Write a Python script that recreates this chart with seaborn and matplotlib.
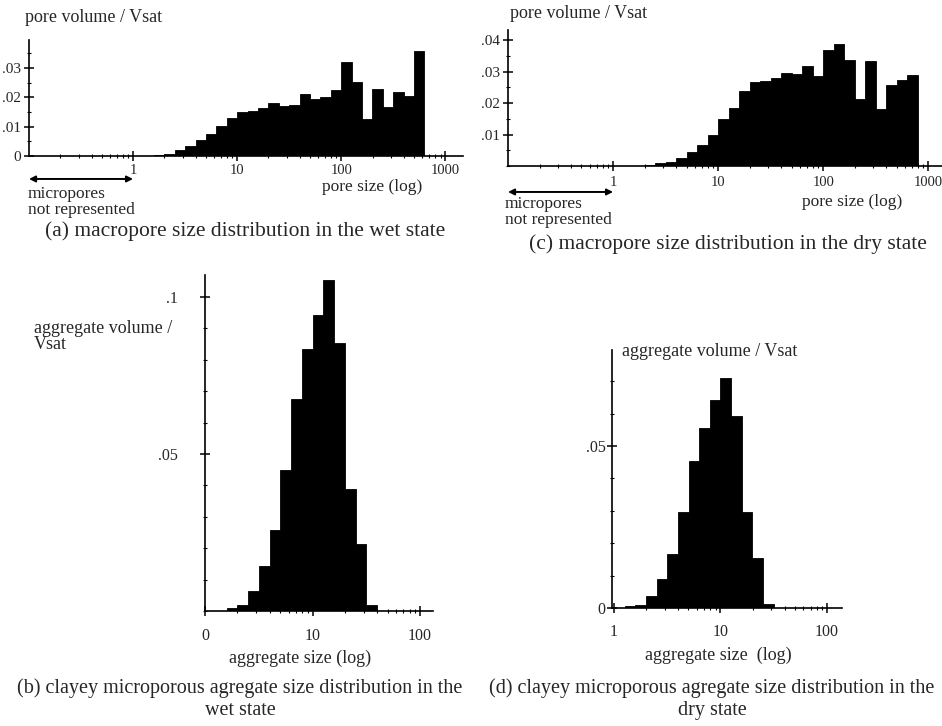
"""Macropore and clayey aggregate size distributions in the wet and dry state."""
import numpy as np
import matplotlib
matplotlib.use("Agg")
import matplotlib.pyplot as plt
from matplotlib.ticker import LogLocator, MultipleLocator, NullFormatter
import seaborn as sns

# volume / Vsat per size class, classes are 0.1 decade wide (log10 range of the classes)
wet_pore_log_range = (0.2, 2.8)
wet_pore_volume = [0.0003, 0.0008, 0.0020, 0.0033, 0.0053, 0.0074, 0.0101, 0.0131,
                   0.0151, 0.0155, 0.0163, 0.0180, 0.0170, 0.0174, 0.0210, 0.0193,
                   0.0200, 0.0225, 0.0321, 0.0253, 0.0125, 0.0228, 0.0166, 0.0220,
                   0.0205, 0.0357]

dry_pore_log_range = (0.3, 2.9)
dry_pore_volume = [0.0003, 0.0008, 0.0013, 0.0026, 0.0044, 0.0066, 0.0100, 0.0149,
                   0.0183, 0.0239, 0.0268, 0.0271, 0.0281, 0.0296, 0.0292, 0.0318,
                   0.0287, 0.0370, 0.0389, 0.0336, 0.0212, 0.0332, 0.0182, 0.0257,
                   0.0273, 0.0289]

wet_agg_log_range = (0.2, 1.6)
wet_agg_volume = [0.0008, 0.0019, 0.0065, 0.0143, 0.0258, 0.0449, 0.0674, 0.0834,
                  0.0942, 0.1055, 0.0852, 0.0389, 0.0212, 0.0019]

dry_agg_log_range = (0.1, 1.5)
dry_agg_volume = [0.0005, 0.0010, 0.0038, 0.0090, 0.0166, 0.0296, 0.0454, 0.0554,
                  0.0642, 0.0711, 0.0592, 0.0295, 0.0154, 0.0013]

W, H = 942, 726


def _xy(x, y):
    return x / W, 1 - y / H


def _axes(fig, left, top, right, bottom):
    return fig.add_axes([left / W, 1 - bottom / H, (right - left) / W, (bottom - top) / H])


def _hist(ax, log_range, volume):
    lo, hi = log_range
    sizes = 10 ** np.linspace(lo + 0.05, hi - 0.05, len(volume))
    sns.histplot(x=sizes, weights=volume, binwidth=0.1, binrange=log_range,
                 log_scale=True, color="black", edgecolor="black", linewidth=0.6,
                 alpha=1, ax=ax)
    ax.set_xlabel("")
    ax.set_ylabel("")


def _style(ax, xlim, ylim, xticks, xlabels, yticks, ylabels, yminor,
           xpad=2, ypad=2, xsize=10.5, ysize=11):
    ax.set_xlim(xlim)
    ax.set_ylim(ylim)
    ax.set_xticks(xticks, xlabels)
    ax.xaxis.set_minor_locator(LogLocator(base=10, subs=np.arange(2, 10), numticks=50))
    ax.xaxis.set_minor_formatter(NullFormatter())
    ax.set_yticks(yticks, ylabels)
    ax.yaxis.set_minor_locator(MultipleLocator(yminor))
    ax.yaxis.set_minor_formatter(NullFormatter())
    sns.despine(ax=ax)
    for side in ("left", "bottom"):
        ax.spines[side].set_linewidth(1.2)
    ax.tick_params(which="major", direction="inout", length=7, width=1.1, color="black")
    ax.tick_params(axis="x", which="major", pad=xpad, labelsize=xsize)
    ax.tick_params(axis="y", which="major", pad=ypad, labelsize=ysize)
    ax.tick_params(which="minor", direction="inout", length=3.5, width=0.8, color="black")
    ax.set_facecolor("white")


def _micropores(fig, ax, y_axes, text_left, text_y):
    ax.annotate("", xy=(0.1, y_axes), xytext=(1, y_axes),
                xycoords=ax.get_xaxis_transform(), textcoords=ax.get_xaxis_transform(),
                arrowprops=dict(arrowstyle="<|-|>", color="black", lw=1.4,
                                mutation_scale=9, shrinkA=0, shrinkB=0),
                annotation_clip=False)
    fig.text(*_xy(text_left, text_y), "micropores\nnot represented", ha="left",
             va="center", fontsize=12.5, linespacing=0.95)


sns.set_style("ticks")
plt.rcParams["font.family"] = ["Liberation Serif", "DejaVu Serif"]
plt.rcParams["axes.edgecolor"] = "black"

fig = plt.figure(figsize=(W / 100, H / 100), dpi=100)

# (a) macropores, wet state
ax_a = _axes(fig, 29, 40, 463, 156)
_hist(ax_a, wet_pore_log_range, wet_pore_volume)
_style(ax_a, (0.1, 1480), (0, 0.0396), [1, 10, 100, 1000], ["1", "10", "100", "1000"],
       [0, 0.01, 0.02, 0.03], ["0", ".01", ".02", ".03"], 0.005)
fig.text(*_xy(25, 18), "pore volume / Vsat", ha="left", va="center", fontsize=13)
fig.text(*_xy(372, 187), "pore size (log)", ha="center", va="center", fontsize=12.5)
_micropores(fig, ax_a, -0.198, 28, 202)
fig.text(*_xy(245, 231), "(a) macropore size distribution in the wet state",
         ha="center", va="center", fontsize=15.5)

# (c) macropores, dry state
ax_c = _axes(fig, 508, 30, 942, 166)
_hist(ax_c, dry_pore_log_range, dry_pore_volume)
_style(ax_c, (0.1, 1350), (0, 0.0432), [1, 10, 100, 1000], ["1", "10", "100", "1000"],
       [0.01, 0.02, 0.03, 0.04], [".01", ".02", ".03", ".04"], 0.005, xpad=4)
fig.text(*_xy(510, 13), "pore volume / Vsat", ha="left", va="center", fontsize=13)
fig.text(*_xy(852, 202), "pore size (log)", ha="center", va="center", fontsize=12.5)
_micropores(fig, ax_c, -0.191, 505, 212)
fig.text(*_xy(728, 244), "(c) macropore size distribution in the dry state",
         ha="center", va="center", fontsize=15.5)

# (b) aggregates, wet state
ax_b = _axes(fig, 205, 275, 433, 611)
_hist(ax_b, wet_agg_log_range, wet_agg_volume)
_style(ax_b, (1, 132), (0, 0.107), [1, 10, 100], ["0", "10", "100"],
       [0.05, 0.1], [".05", ".1"], 0.01, xpad=9, ypad=16, xsize=11.5, ysize=11.5)
fig.text(*_xy(172, 320), "aggregate volume /\nVsat", ha="right", va="top",
         multialignment="left", fontsize=13, linespacing=0.9)
fig.text(*_xy(300, 658), "aggregate size (log)", ha="center", va="center", fontsize=13)
fig.text(*_xy(240, 699), "(b) clayey microporous agregate size distribution in the\nwet state",
         ha="center", va="center", fontsize=14.5)

# (d) aggregates, dry state
ax_d = _axes(fig, 612, 350, 842, 608)
_hist(ax_d, dry_agg_log_range, dry_agg_volume)
_style(ax_d, (0.96, 138), (0, 0.0796), [1, 10, 100], ["1", "10", "100"],
       [0, 0.05], ["0", ".05"], 0.01, xpad=8, ypad=1, xsize=11.5, ysize=11.5)
fig.text(*_xy(622, 352), "aggregate volume / Vsat", ha="left", va="center", fontsize=13)
fig.text(*_xy(718, 655), "aggregate size  (log)", ha="center", va="center", fontsize=13)
fig.text(*_xy(712, 699), "(d) clayey microporous agregate size distribution in the\ndry state",
         ha="center", va="center", fontsize=14.5)

fig.savefig("out.png", dpi=100, facecolor="white")
